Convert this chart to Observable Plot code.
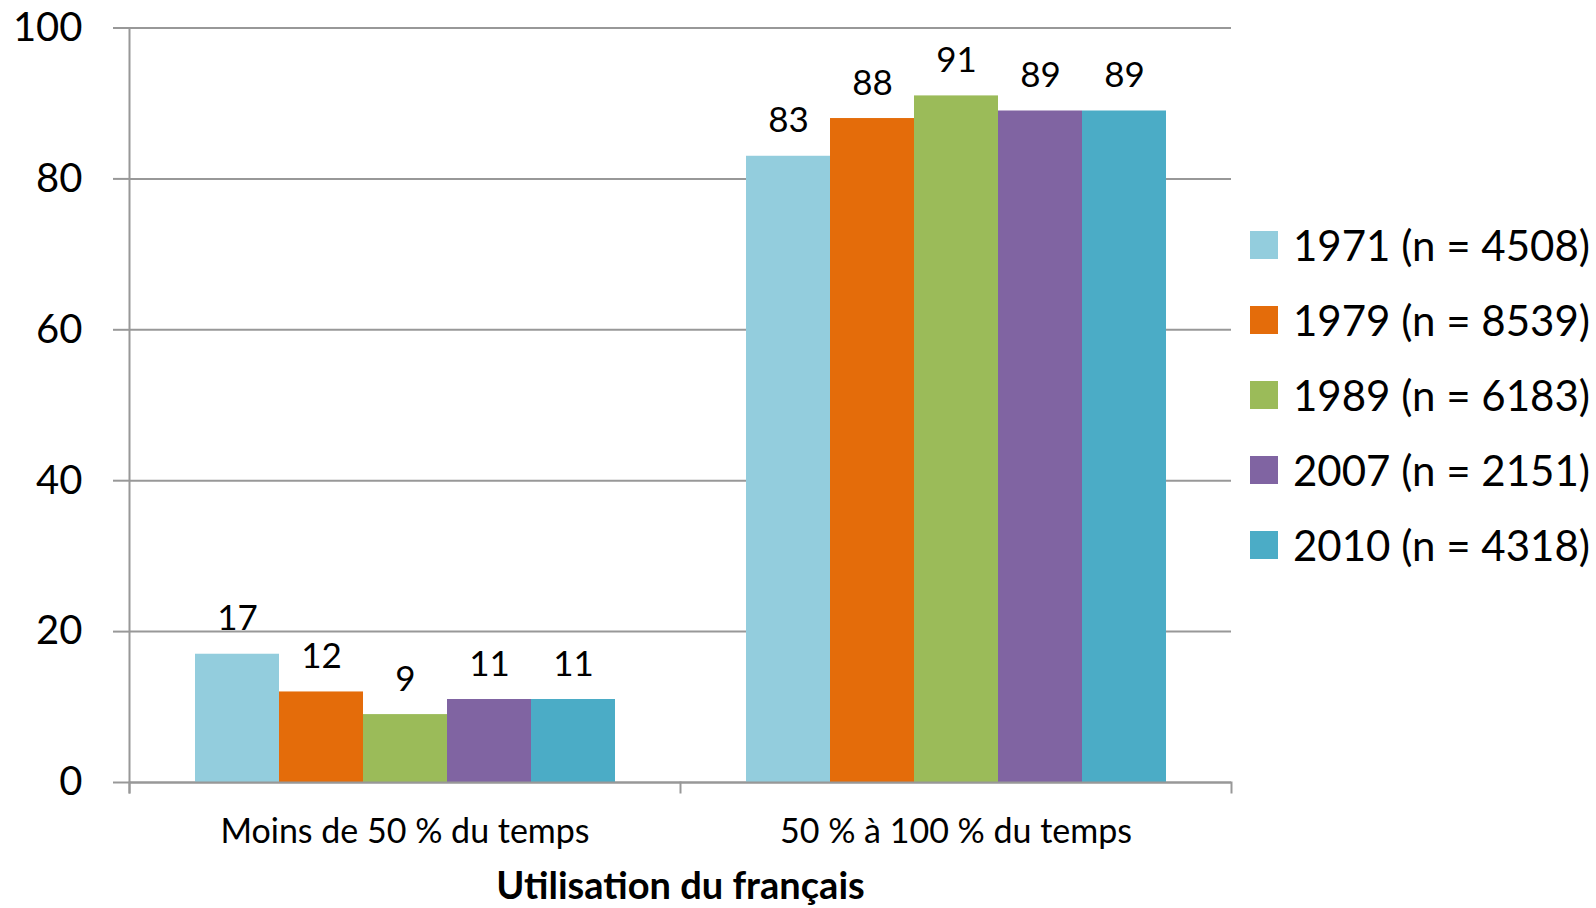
<!DOCTYPE html>
<html>
<head>
<meta charset="utf-8">
<script src="https://cdn.jsdelivr.net/npm/d3@7"></script>
<script src="https://cdn.jsdelivr.net/npm/@observablehq/plot@0.6"></script>
<style>
  html, body { margin: 0; padding: 0; background: #fff; }
  #wrap { position: relative; width: 1596px; height: 908px; font-family: Lato, "Noto Sans", sans-serif; }
  #legend { position: absolute; left: 1250px; top: 208px; }
  .row { display: flex; align-items: center; height: 74.8px; }
  .sw { width: 28px; height: 28px; margin-right: 15px; flex: none; }
  .lab { font-size: 42px; color: #000; white-space: nowrap; }
</style>
</head>
<body>
<div id="wrap"></div>
<script>
const categories = ["Moins de 50 % du temps", "50 % à 100 % du temps"];
const series = ["1971 (n = 4508)", "1979 (n = 8539)", "1989 (n = 6183)", "2007 (n = 2151)", "2010 (n = 4318)"];
const v1971 = [17, 83];
const v1979 = [12, 88];
const v1989 = [9, 91];
const v2007 = [11, 89];
const v2010 = [11, 89];
const colors = ["#93CDDD", "#E46C0A", "#9BBB59", "#8064A2", "#4BACC6"];
const yTicks = [0, 20, 40, 60, 80, 100];
const xTitle = "Utilisation du français";

const valueLists = [v1971, v1979, v1989, v2007, v2010];
const data = [];
categories.forEach((c, ci) => {
  series.forEach((s, si) => data.push({cat: c, series: s, value: valueLists[si][ci]}));
});

const gray = "#989898";
const H = 908, mT = 27.5, mB = 126;
const innerH = H - mT - mB;

const chart = Plot.plot({
  width: 1596,
  height: H,
  marginLeft: 129,
  marginRight: 365,
  marginTop: mT,
  marginBottom: mB,
  style: {fontFamily: "Lato, 'Noto Sans', sans-serif", background: "#fff", color: "#000"},
  fx: {domain: categories, padding: 0, label: null},
  x: {domain: series, paddingInner: 0, paddingOuter: 0.75, axis: null},
  y: {domain: [0, 100], ticks: yTicks, label: null},
  color: {domain: series, range: colors},
  marks: [
    Plot.gridY(yTicks, {stroke: gray, strokeOpacity: 1, strokeWidth: 2}),
    Plot.axisY(yTicks, {tickSize: 16, tickPadding: 31, stroke: gray, strokeWidth: 2, fontSize: 40, fill: "#000", label: null}),
    Plot.barY(data, {fx: "cat", x: "series", y: "value", fill: "series"}),
    Plot.ruleY([0], {stroke: gray, strokeWidth: 2}),
    Plot.frame({anchor: "left", facet: "super", insetBottom: -10, stroke: gray, strokeWidth: 2}),
    Plot.frame({anchor: "right", facet: "super", insetTop: innerH, insetBottom: -10, stroke: gray, strokeWidth: 2}),
    Plot.frame({anchor: "left", insetTop: innerH, insetBottom: -10, stroke: gray, strokeWidth: 2}),
    Plot.text(data, {fx: "cat", x: "series", y: "value", text: d => String(d.value), dy: -35, lineAnchor: "middle", fontSize: 35, fill: "#000"}),
    Plot.axisFx({anchor: "bottom", tickSize: 0, tickPadding: 0, dy: 50, lineAnchor: "middle", fontSize: 34, fill: "#000", label: null}),
    Plot.text([xTitle], {frameAnchor: "bottom", facet: "super", dy: 104, lineAnchor: "middle", fontSize: 38, fontWeight: "bold", fill: "#000"})
  ]
});
document.getElementById("wrap").appendChild(chart);

const legend = document.createElement("div");
legend.id = "legend";
series.forEach((s, i) => {
  const row = document.createElement("div");
  row.className = "row";
  const sw = document.createElement("div");
  sw.className = "sw";
  sw.style.background = colors[i];
  const lab = document.createElement("div");
  lab.className = "lab";
  lab.textContent = s;
  row.appendChild(sw); row.appendChild(lab);
  legend.appendChild(row);
});
document.getElementById("wrap").appendChild(legend);
</script>
</body>
</html>
